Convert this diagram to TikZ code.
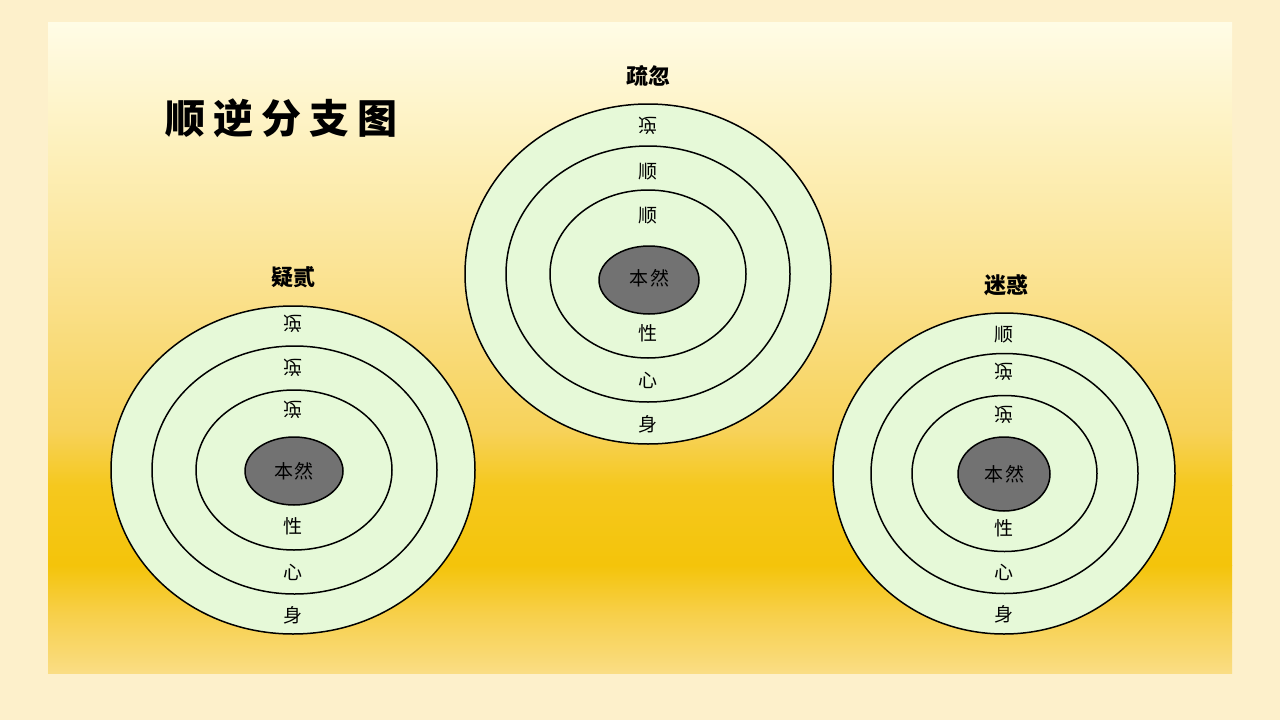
\documentclass[tikz,border=0pt]{standalone}
\usepackage{fontspec}
\setmainfont{Noto Sans CJK SC}
\newfontfamily\cjk{Noto Sans CJK SC}
\definecolor{outerbg}{HTML}{FDF0CB}
\definecolor{ringfill}{HTML}{E6F9D8}
\definecolor{corefill}{HTML}{727272}
\definecolor{gA}{HTML}{FFFCE6}
\definecolor{gB}{HTML}{FDEFB8}
\definecolor{gC}{HTML}{FAE08A}
\definecolor{gD}{HTML}{F7D25A}
\definecolor{gE}{HTML}{F5C81E}
\definecolor{gF}{HTML}{F4C40A}
\definecolor{gG}{HTML}{F7CF48}
\definecolor{gH}{HTML}{FADD84}
\tikzset{
  ring/.style={draw=black, line width=1.5pt, fill=ringfill},
  core/.style={draw=black, line width=1.5pt, fill=corefill},
  lbl/.style={font=\cjk\fontsize{19}{19}\selectfont, inner sep=0pt},
  flbl/.style={lbl, yscale=-1, transform shape},
  corelbl/.style={font=\cjk\fontsize{19}{19}\selectfont, inner sep=0pt},
  head/.style={font=\cjk\bfseries\fontsize{22}{22}\selectfont, inner sep=0pt},
}
\begin{document}
\begin{tikzpicture}[x=1pt,y=-1pt]
\useasboundingbox (0,0) rectangle (1280,720);
\fill[outerbg] (0,0) rectangle (1280,720);
% panel gradient
\shade[top color=gA, bottom color=gB] (48,22) rectangle (1232,160.5);
\shade[top color=gB, bottom color=gC] (48,160) rectangle (1232,300.5);
\shade[top color=gC, bottom color=gD] (48,300) rectangle (1232,430.5);
\shade[top color=gD, bottom color=gE] (48,430) rectangle (1232,485.5);
\shade[top color=gE, bottom color=gF] (48,485) rectangle (1232,565.5);
\shade[top color=gF, bottom color=gG] (48,565) rectangle (1232,612.5);
\shade[top color=gG, bottom color=gH] (48,612) rectangle (1232,673);

% title
\node[font=\cjk\bfseries\fontsize{40}{40}\selectfont, inner sep=0pt] (title) at (281,118)
  {顺\hspace{8pt}逆\hspace{8pt}分\hspace{8pt}支\hspace{8pt}图};

% ---- top (疏忽)
\node[head] (hT) at (648,76) {疏忽};
\draw[ring] (648,274) ellipse [x radius=183, y radius=170];
\draw[ring] (648,274) ellipse [x radius=142, y radius=128];
\draw[ring] (648,274) ellipse [x radius=98, y radius=84];
\draw[core] (649,280) ellipse [x radius=50, y radius=34];
\node[corelbl] (cT) at (649,278) {本\hspace{2pt}然};
\node[flbl] (t1) at (648,126) {逆};
\node[lbl] (t2) at (648,172) {顺};
\node[lbl] (t3) at (648,216) {顺};
\node[lbl] (t4) at (648,333) {性};
\node[lbl] (t5) at (648,380) {心};
\node[lbl] (t6) at (648,424) {身};

% ---- left (疑贰)
\node[head] (hL) at (293,277) {疑贰};
\draw[ring] (293,470) ellipse [x radius=182, y radius=164];
\draw[ring] (294.5,470) ellipse [x radius=142.5, y radius=124];
\draw[ring] (294,470) ellipse [x radius=98, y radius=80];
\draw[core] (294,471) ellipse [x radius=49, y radius=34];
\node[corelbl] (cL) at (294,471) {本\hspace{2pt}然};
\node[flbl] (l1) at (293,324) {逆};
\node[flbl] (l2) at (293,368) {逆};
\node[flbl] (l3) at (293,410) {逆};
\node[lbl] (l4) at (293,526) {性};
\node[lbl] (l5) at (293,572) {心};
\node[lbl] (l6) at (293,615) {身};

% ---- right (迷惑)
\node[head] (hR) at (1006,285) {迷惑};
\draw[ring] (1004,473.5) ellipse [x radius=171, y radius=160.5];
\draw[ring] (1004.5,473.5) ellipse [x radius=133.5, y radius=120];
\draw[ring] (1004.5,473.5) ellipse [x radius=92.5, y radius=78];
\draw[core] (1004,474) ellipse [x radius=46, y radius=37];
\node[corelbl] (cR) at (1004,474) {本\hspace{2pt}然};
\node[lbl] (r1) at (1004,335) {顺};
\node[flbl] (r2) at (1004,372) {逆};
\node[flbl] (r3) at (1004,415) {逆};
\node[lbl] (r4) at (1004,528) {性};
\node[lbl] (r5) at (1004,572) {心};
\node[lbl] (r6) at (1004,614) {身};
\end{tikzpicture}
\end{document}
